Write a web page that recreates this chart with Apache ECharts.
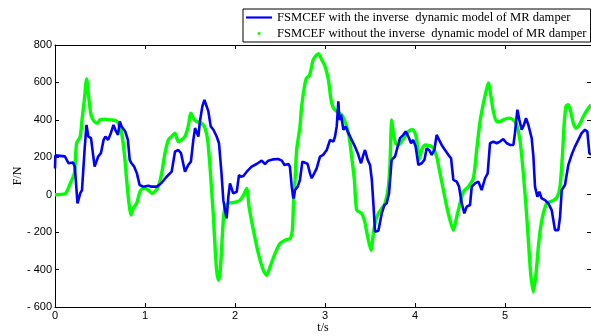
<!DOCTYPE html>
<html>
<head>
<meta charset="utf-8">
<script src="https://cdn.jsdelivr.net/npm/echarts@6/dist/echarts.min.js"></script>
<style>
html, body { margin: 0; padding: 0; background: #fff; }
#chart { width: 591px; height: 336px; }
</style>
</head>
<body>
<div id="chart"></div>
<script>
// t/s and F/N readings, blue = with inverse model, green = without
var blueT = [0, 0.004, 0.11, 0.15, 0.2, 0.22, 0.25, 0.28, 0.3, 0.33, 0.35, 0.37, 0.4, 0.44, 0.48, 0.51, 0.54, 0.56, 0.59, 0.62, 0.65, 0.67, 0.685, 0.7, 0.72, 0.74, 0.76, 0.78, 0.81, 0.83, 0.85, 0.88, 0.91, 0.94, 0.98,
    1.037, 1.074, 1.13, 1.185, 1.24, 1.296, 1.333, 1.37, 1.4, 1.444, 1.48, 1.51, 1.537, 1.556, 1.593, 1.61, 1.637, 1.66, 1.685, 1.704, 1.73, 1.76, 1.796, 1.822, 1.85, 1.87, 1.889, 1.907, 1.926, 1.944, 1.98,
    2.019, 2.044, 2.067, 2.093, 2.13, 2.185, 2.24, 2.296, 2.333, 2.37, 2.426, 2.48, 2.52, 2.55, 2.593, 2.61, 2.63, 2.648, 2.667, 2.696, 2.722, 2.748, 2.778, 2.807, 2.833, 2.852, 2.88, 2.907, 2.944, 2.98,
    3.019, 3.056, 3.093, 3.111, 3.13, 3.148, 3.16, 3.178, 3.204, 3.23, 3.26, 3.296, 3.333, 3.37, 3.4, 3.426, 3.444, 3.474, 3.5, 3.52, 3.537, 3.556, 3.593, 3.611, 3.63, 3.66, 3.685, 3.711, 3.74, 3.76, 3.778, 3.807, 3.833, 3.87, 3.896, 3.926, 3.956, 3.98,
    4.007, 4.037, 4.074, 4.104, 4.13, 4.156, 4.185, 4.215, 4.24, 4.267, 4.296, 4.333, 4.37, 4.4, 4.426, 4.463, 4.489, 4.519, 4.548, 4.574, 4.611, 4.63, 4.667, 4.704, 4.74, 4.778, 4.807, 4.833, 4.87, 4.907, 4.944, 4.98,
    5.019, 5.056, 5.093, 5.11, 5.137, 5.159, 5.185, 5.21, 5.233, 5.259, 5.296, 5.315, 5.333, 5.359, 5.381, 5.407, 5.444, 5.481, 5.518, 5.555, 5.592, 5.611, 5.63, 5.666, 5.703, 5.74, 5.777, 5.814, 5.851, 5.888, 5.914, 5.937, 5.955];
var blueF = [140, 210, 205, 168, 172, 150, -46, 7, 25, 250, 373, 311, 302, 150, 204, 222, 293, 311, 293, 329, 373, 347, 356, 320, 391, 365, 373, 338, 293, 186, 168, 150, 114, 52, 43,
    48, 43, 43, 64, 96, 123, 230, 239, 222, 123, 159, 177, 293, 356, 311, 391, 472, 507, 472, 445, 365, 347, 311, 275, 114, -29, -82, -127, -11, 61, 7,
    16, 105, 96, 100, 123, 150, 164, 182, 164, 182, 189, 191, 182, 159, 164, 150, 43, -20, 25, 43, 79, 177, 171, 164, 114, 88, 114, 141, 204, 213,
    239, 293, 284, 311, 365, 499, 400, 427, 347, 365, 329, 293, 257, 213, 168, 213, 239, 186, 159, 79, -46, -198, -193, -189, -100, -55, -46, 7, 186, 195, 204, 257, 302, 320, 338, 311, 275, 293,
    257, 159, 168, 186, 248, 239, 213, 239, 320, 293, 266, 239, 213, 195, 79, 70, 43, -46, -100, -64, -55, 43, 61, 70, 25, 88, 114, 275, 284, 275, 284, 297,
    275, 266, 266, 329, 454, 400, 347, 373, 409, 373, 302, 204, 43, -11, 16, -20, -29, -46, -82, -189, -189, -118, 25, 52, 159, 213, 257, 293, 329, 347, 338, 222, 213];

var greenT = [0, 0.11, 0.13, 0.17, 0.215, 0.24, 0.28, 0.3, 0.326, 0.352, 0.37, 0.4, 0.437, 0.474, 0.5, 0.556, 0.61, 0.667, 0.704, 0.74, 0.77, 0.796, 0.822, 0.844, 0.87, 0.907, 0.944, 0.98,
    1.037, 1.08, 1.11, 1.148, 1.185, 1.222, 1.26, 1.296, 1.333, 1.37, 1.407, 1.444, 1.48, 1.51, 1.537, 1.574, 1.63, 1.667, 1.696, 1.722, 1.74, 1.76, 1.778, 1.796, 1.815, 1.833, 1.852, 1.87, 1.889, 1.926, 1.963,
    2.0, 2.056, 2.104, 2.13, 2.156, 2.204, 2.26, 2.315, 2.352, 2.389, 2.444, 2.5, 2.556, 2.611, 2.637, 2.648, 2.667, 2.685, 2.722, 2.74, 2.778, 2.796, 2.822, 2.844, 2.87, 2.926, 2.963,
    3.0, 3.037, 3.067, 3.093, 3.13, 3.185, 3.23, 3.267, 3.296, 3.326, 3.352, 3.407, 3.437, 3.474, 3.511, 3.537, 3.563, 3.593, 3.63, 3.667, 3.704, 3.722, 3.741, 3.76, 3.785, 3.815, 3.852, 3.889, 3.926, 3.97,
    4.0, 4.019, 4.044, 4.074, 4.111, 4.167, 4.204, 4.24, 4.278, 4.315, 4.352, 4.389, 4.426, 4.463, 4.5, 4.537, 4.593, 4.648, 4.685, 4.722, 4.76, 4.785, 4.815, 4.844, 4.87, 4.907, 4.944,
    4.981, 5.037, 5.092, 5.129, 5.166, 5.203, 5.233, 5.259, 5.285, 5.314, 5.344, 5.37, 5.396, 5.425, 5.462, 5.499, 5.544, 5.581, 5.611, 5.637, 5.655, 5.677, 5.703, 5.729, 5.759, 5.788, 5.825, 5.87, 5.914, 5.955];
var greenF = [0, 4, 16, 61, 114, 275, 311, 400, 507, 618, 543, 427, 391, 382, 400, 404, 400, 397, 382, 329, 222, 79, -46, -109, -73, -46, 16, 34,
    25, 7, 16, 43, 114, 222, 293, 311, 329, 284, 293, 311, 365, 436, 409, 391, 382, 356, 293, 150, 25, -118, -279, -404, -457, -422, -279, -136, -64, -46, -43,
    -40, -29, 7, 34, -64, -189, -315, -404, -431, -386, -315, -261, -243, -234, -189, -64, 79, 239, 365, 472, 597, 624, 633, 668, 722, 754, 722,
    686, 615, 507, 463, 445, 427, 382, 311, 204, 79, -82, -100, -136, -225, -297, -207, -136, -100, -73, -46, 43, 168, 400, 329, 275, 266, 284, 311, 338, 347,
    329, 293, 186, 239, 266, 261, 248, 204, 114, 25, -64, -136, -189, -118, -46, 16, 43, 88, 239, 391, 490, 543, 597, 525, 445, 391, 391,
    400, 409, 400, 373, 293, 114, -64, -243, -422, -520, -422, -279, -172, -100, -46, -38, -29, -11, 43, 204, 365, 472, 481, 445, 382, 356, 373, 418, 454, 481];

var yTicks = [-600, -400, -200, 0, 200, 400, 600, 800];
var xTicks = [0, 1, 2, 3, 4, 5];
var legendNames = ['FSMCEF with the inverse  dynamic model of MR damper', 'FSMCEF without the inverse  dynamic model of MR damper'];

function pairs(xs, ys) {
    return xs.map(function (x, i) { return [x, ys[i]]; });
}

var chart = echarts.init(document.getElementById('chart'));
var sansFont = '"Liberation Sans", Arial, sans-serif';
var serifFont = '"Liberation Serif", "Times New Roman", serif';

var tickStyle = { show: true, inside: true, length: 4, lineStyle: { color: '#000', width: 1 } };
var lineStyle = { show: true, onZero: false, lineStyle: { color: '#000', width: 1 } };

var option = {
    animation: false,
    backgroundColor: '#fff',
    grid: { left: 55, right: 0, top: 45, bottom: 29, containLabel: false, outerBoundsMode: 'none' },
    legend: {
        left: 243,
        top: 9,
        orient: 'vertical',
        padding: [2, 4, 2, 3],
        itemGap: 3,
        itemWidth: 26,
        itemHeight: 12,
        borderColor: '#000',
        borderWidth: 1,
        backgroundColor: '#fff',
        textStyle: { fontFamily: serifFont, fontSize: 12.6, color: '#000' },
        data: [
            { name: legendNames[0], icon: 'path://M0,5 L30,5 L30,7.5 L0,7.5 Z' },
            { name: legendNames[1], icon: 'path://M0,0 M30,12 M13.5,4.5 L16.5,4.5 L16.5,7.5 L13.5,7.5 Z' }
        ]
    },
    xAxis: [{
        type: 'value',
        min: 0,
        max: 5.955,
        interval: 1,
        name: 't/s',
        nameLocation: 'middle',
        nameGap: 15,
        nameMoveOverlap: false,
        nameTextStyle: { fontFamily: serifFont, fontSize: 12, color: '#000' },
        axisLine: lineStyle,
        axisTick: tickStyle,
        splitLine: { show: false },
        axisLabel: {
            showMaxLabel: false,
            margin: 3,
            fontFamily: sansFont,
            fontSize: 11,
            color: '#000',
            formatter: function (v) { return xTicks.indexOf(v) >= 0 ? String(v) : ''; }
        }
    }, {
        type: 'value',
        position: 'top',
        min: 0,
        max: 5.955,
        interval: 1,
        axisLine: lineStyle,
        axisTick: tickStyle,
        axisLabel: { show: false },
        splitLine: { show: false }
    }],
    yAxis: [{
        type: 'value',
        min: -600,
        max: 800,
        interval: 200,
        name: 'F/N',
        nameLocation: 'middle',
        nameGap: 31,
        nameMoveOverlap: false,
        nameRotate: 90,
        nameTextStyle: { fontFamily: serifFont, fontSize: 12, color: '#000' },
        axisLine: lineStyle,
        axisTick: tickStyle,
        splitLine: { show: false },
        axisLabel: {
            margin: 3,
            fontFamily: sansFont,
            fontSize: 11,
            color: '#000',
            formatter: function (v) {
                if (yTicks.indexOf(v) < 0) return '';
                return v < 0 ? '- ' + Math.abs(v) : String(v);
            }
        }
    }, {
        type: 'value',
        position: 'right',
        min: -600,
        max: 800,
        interval: 200,
        axisLine: lineStyle,
        axisTick: tickStyle,
        axisLabel: { show: false },
        splitLine: { show: false }
    }],
    series: [{
        name: legendNames[0],
        type: 'line',
        data: pairs(blueT, blueF),
        showSymbol: false,
        symbol: 'none',
        z: 3,
        itemStyle: { color: '#0000ff' },
        lineStyle: { color: '#0000ff', width: 2.6 }
    }, {
        name: legendNames[1],
        type: 'line',
        data: pairs(greenT, greenF),
        showSymbol: false,
        symbol: 'none',
        smooth: 0.25,
        z: 2,
        itemStyle: { color: '#00ff00' },
        lineStyle: { color: '#00ff00', width: 3.4 }
    }]
};
chart.setOption(option);
</script>
</body>
</html>
